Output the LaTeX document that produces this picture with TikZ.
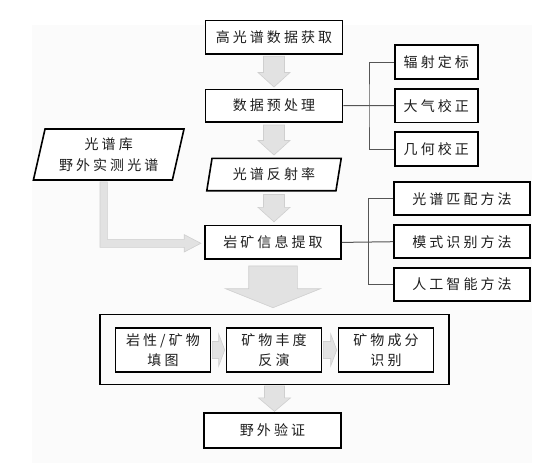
\documentclass[tikz,border=0pt]{standalone}
\usepackage{fontspec}
\setmainfont{Noto Sans CJK SC}[LetterSpace=22]
\usepackage{tikz}
\usetikzlibrary{calc, shapes.geometric}

\definecolor{arrowfill}{HTML}{E2E2E2}
\definecolor{arrowline}{HTML}{CFCFCF}
\definecolor{branchgrey}{HTML}{555555}
\definecolor{bgpanel}{HTML}{FBFBFB}
\definecolor{textdark}{HTML}{1E1E1E}

% fat grey arrow pointing down, from one node to the next
\newcommand{\fatdown}[6][2.5pt]{%
  \filldraw[blockarrow] let \p1=(#2.south), \p2=(#3.north) in
    (\x1-#4,\y1-#1) -- (\x1+#4,\y1-#1) -- (\x1+#4,\y2+#1+#6) -- (\x1+#5,\y2+#1+#6)
    -- (\x1,\y2+#1) -- (\x1-#5,\y2+#1+#6) -- (\x1-#4,\y2+#1+#6) -- cycle;}
% fat grey arrow pointing right
\newcommand{\fatright}[6][1pt]{%
  \filldraw[blockarrow] let \p1=(#2.east), \p2=(#3.west) in
    (\x1+#1,\y1+#4) -- (\x2-#1-#6,\y1+#4) -- (\x2-#1-#6,\y1+#5) -- (\x2-#1,\y1)
    -- (\x2-#1-#6,\y1-#5) -- (\x2-#1-#6,\y1-#4) -- (\x1+#1,\y1-#4) -- cycle;}

\begin{document}
\begin{tikzpicture}[x=1pt, y=-1pt,
    box/.style={draw=black, line width=1.6pt, fill=white, inner sep=0pt,
      minimum width=137pt, minimum height=33.5pt, text=textdark,
      font=\fontsize{14}{21}\selectfont, align=center},
    sidebox/.style={box, minimum width=83pt},
    methodbox/.style={box, minimum width=136pt, minimum height=33pt},
    slanted/.style={box, trapezium, trapezium left angle=75,
      trapezium right angle=105, trapezium stretches=true},
    stepbox/.style={box, minimum width=95pt, minimum height=44pt,
      font=\fontsize{14}{20}\selectfont},
    panel/.style={draw=black, line width=1.6pt, minimum width=349pt,
      minimum height=70pt, inner sep=0pt},
    blockarrow/.style={fill=arrowfill, draw=arrowline, line width=0.6pt},
    branch/.style={draw=branchgrey, line width=1pt}]

    \useasboundingbox (0,0) rectangle (554,467);
    \fill[bgpanel] (32,25) rectangle (532,463);

    % Main column
    \node[box] (get) at (274,37.2) {高光谱数据获取};
    \node[box, minimum height=32.4pt] (pre) at (274,105.5) {数据预处理};
    \node[slanted, minimum width=135.7pt, minimum height=32.4pt] (refl) at (274,174.5) {光谱反射率};
    \node[box, minimum width=136pt] (ext) at (273,242.4) {岩矿信息提取};

    % Mapping steps
    \node[panel] (outer) at (274.5,349.5) {};
    \node[stepbox] (map) at (163,350) {岩性/矿物\\填图};
    \node[stepbox] (inv) at (274,350) {矿物丰度\\反演};
    \node[stepbox] (comp) at (386,350) {矿物成分\\识别};

    \node[box, minimum height=35pt] (check) at (272.5,430.2) {野外验证};

    % Spectral library
    \node[slanted, minimum width=150.7pt, minimum height=51pt] (lib) at (108.7,154.5) {光谱库\\野外实测光谱};

    % Preprocessing
    \node[sidebox, minimum height=34pt] (rad) at (436.3,62) {辐射定标};
    \node[sidebox] (atm) at (436.3,105.7) {大气校正};
    \node[sidebox] (geo) at (436.3,149) {几何校正};

    % Extraction methods
    \node[methodbox] (spm) at (462,198.7) {光谱匹配方法};
    \node[methodbox] (pat) at (462,241.7) {模式识别方法};
    \node[methodbox] (ai) at (462,284.2) {人工智能方法};

    % Branch lines
    \coordinate (j1) at (369,105.5);
    \coordinate (j2) at (368.3,242.4);
    \draw[branch] (pre.east) -- (atm.west);
    \draw[branch] (rad.west) -| (j1) |- (geo.west);
    \draw[branch] (ext.east) -- (pat.west);
    \draw[branch] (spm.west) -| (j2) |- (ai.west);

    % Grey arrows
    \fatdown[1.5pt]{get}{pre}{10.5pt}{16pt}{14.5pt}
    \fatdown{pre}{refl}{10.5pt}{16pt}{14.5pt}
    \fatdown[3pt]{refl}{ext}{10.5pt}{16pt}{14.5pt}
    \fatdown[6pt]{ext}{outer}{24.3pt}{47.5pt}{19pt}
    \fatdown[0.5pt]{outer}{check}{10pt}{16pt}{13.5pt}
    \fatright{map}{inv}{8.5pt}{16pt}{6pt}
    \fatright{inv}{comp}{8.5pt}{16pt}{6pt}
    \filldraw[blockarrow] let \p1=(lib.south), \p2=(ext.west) in
      (\x1-8.7pt,\y1-1pt) -- (\x1-1.4pt,\y1-1pt) -- (\x1-1.4pt,\y2+3pt)
      -- (\x2-20pt,\y2+3pt) -- (\x2-20pt,\y2+7.8pt) -- (\x2-3.3pt,\y2-0.9pt)
      -- (\x2-20pt,\y2-9.6pt) -- (\x2-20pt,\y2-4.9pt) -- (\x1-8.7pt,\y2-4.9pt) -- cycle;
\end{tikzpicture}
\end{document}
